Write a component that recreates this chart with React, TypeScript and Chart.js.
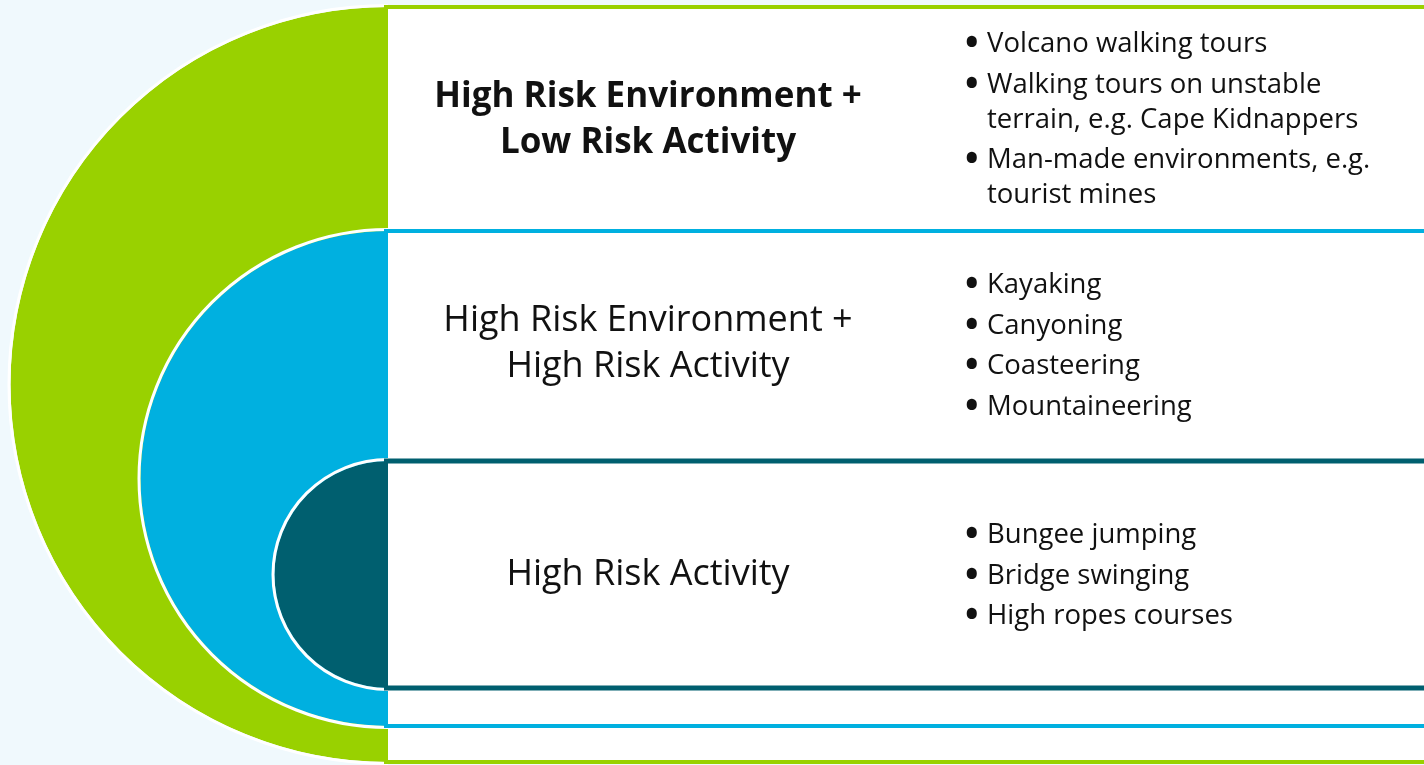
import React, { useEffect, useRef } from 'react';
import { Chart, registerables } from 'chart.js';

Chart.register(...registerables);

// ---- data ----
const tierNames = ['Outer', 'Middle', 'Inner'];
const titleLines: string[][] = [
  ['High Risk Environment +', 'Low Risk Activity'],
  ['High Risk Environment +', 'High Risk Activity'],
  ['High Risk Activity'],
];
const titleBold = [true, false, false];
const bulletItems: string[][][] = [
  [
    ['Volcano walking tours'],
    ['Walking tours on unstable', 'terrain, e.g. Cape Kidnappers'],
    ['Man-made environments, e.g.', 'tourist mines'],
  ],
  [['Kayaking'], ['Canyoning'], ['Coasteering'], ['Mountaineering']],
  [['Bungee jumping'], ['Bridge swinging'], ['High ropes courses']],
];
// vertical extent of each tier band (axis units)
const bandTop = [7, 231, 461];
const bandBottom = [762, 726, 688];

// ---- styles / layout ----
const tierColors = ['#99D100', '#00B0E0', '#005F6F'];
const tierLineWidths = [4, 4, 5];
const BG = '#F0F9FD';
const SPLIT_X = 388;
const TITLE_X = 648;
const TITLE_FIRST_BASELINE = [107, 331, 585];
const TITLE_LINE_GAP = 46;
const BULLET_X = 965;
const BULLET_TEXT_X = 987;
const BULLET_FIRST_BASELINE = [52, 293, 543];
const BULLET_ITEM_GAP = 40.5;
const BULLET_WRAP_GAP = 35;
const FONT = '"Open Sans", sans-serif';
const TITLE_SIZE = 36;
const TITLE_BOLD_SIZE = 35;
const BULLET_SIZE = 27.5;

const diagramPlugin = {
  id: 'nestedTiers',
  beforeDraw(chart: any) {
    const { ctx, width, height } = chart;
    ctx.save();
    ctx.fillStyle = BG;
    ctx.fillRect(0, 0, width, height);
    ctx.restore();
  },
  afterDraw(chart: any) {
    const { ctx } = chart;
    const xs = chart.scales.x;
    const ys = chart.scales.y;
    const sx = xs.getPixelForValue(SPLIT_X);
    const right = xs.getPixelForValue(1440);
    ctx.save();
    tierNames.forEach((_, i) => {
      const t = ys.getPixelForValue(bandTop[i]);
      const b = ys.getPixelForValue(bandBottom[i]);
      const cy = (t + b) / 2;
      const r = (b - t) / 2;
      ctx.beginPath();
      ctx.moveTo(sx, cy);
      ctx.arc(sx, cy, r, Math.PI / 2, (3 * Math.PI) / 2, false);
      ctx.closePath();
      ctx.fillStyle = tierColors[i];
      ctx.fill();
      ctx.beginPath();
      ctx.arc(sx, cy, r + 1.5, Math.PI / 2, (3 * Math.PI) / 2, false);
      ctx.strokeStyle = '#FFFFFF';
      ctx.lineWidth = 3;
      ctx.stroke();
      ctx.fillStyle = '#FFFFFF';
      ctx.fillRect(sx, t, right - sx, b - t);
      ctx.strokeStyle = tierColors[i];
      ctx.lineWidth = tierLineWidths[i];
      ctx.beginPath();
      ctx.moveTo(sx - 4, t);
      ctx.lineTo(right, t);
      ctx.moveTo(sx - 4, b);
      ctx.lineTo(right, b);
      ctx.stroke();
    });

    ctx.fillStyle = '#111111';
    ctx.textBaseline = 'alphabetic';
    tierNames.forEach((_, i) => {
      ctx.font = titleBold[i] ? `bold ${TITLE_BOLD_SIZE}px ${FONT}` : `${TITLE_SIZE}px ${FONT}`;
      ctx.textAlign = 'center';
      titleLines[i].forEach((line, j) => {
        ctx.fillText(line, xs.getPixelForValue(TITLE_X), ys.getPixelForValue(TITLE_FIRST_BASELINE[i] + j * TITLE_LINE_GAP));
      });
      ctx.textAlign = 'left';
      let y = BULLET_FIRST_BASELINE[i];
      bulletItems[i].forEach((item) => {
        ctx.font = `bold 36px ${FONT}`;
        ctx.fillText('•', xs.getPixelForValue(BULLET_X), ys.getPixelForValue(y + 3));
        ctx.font = `${BULLET_SIZE}px ${FONT}`;
        item.forEach((line, k) => {
          if (k > 0) y += BULLET_WRAP_GAP;
          ctx.fillText(line, xs.getPixelForValue(BULLET_TEXT_X), ys.getPixelForValue(y));
        });
        y += BULLET_ITEM_GAP;
      });
    });
    ctx.restore();
  },
};

export default function App() {
  const ref = useRef<HTMLCanvasElement | null>(null);
  useEffect(() => {
    document.body.style.margin = '0';
    const canvas = ref.current!;
    const chart = new Chart(canvas, {
      type: 'scatter',
      data: { datasets: [{ label: 'tiers', data: [], pointRadius: 0 }] },
      options: {
        animation: false,
        responsive: false,
        devicePixelRatio: 1,
        layout: { padding: 0 },
        plugins: { legend: { display: false }, tooltip: { enabled: false } },
        events: [],
        scales: {
          x: { type: 'linear', min: 0, max: 1424, display: false },
          y: { type: 'linear', min: 0, max: 765, reverse: true, display: false },
        },
      },
      plugins: [diagramPlugin],
    });
    return () => chart.destroy();
  }, []);
  return (
    <div style={{ width: 1424, height: 765, overflow: 'hidden' }}>
      <canvas ref={ref} width={1424} height={765} style={{ display: 'block' }} />
    </div>
  );
}
